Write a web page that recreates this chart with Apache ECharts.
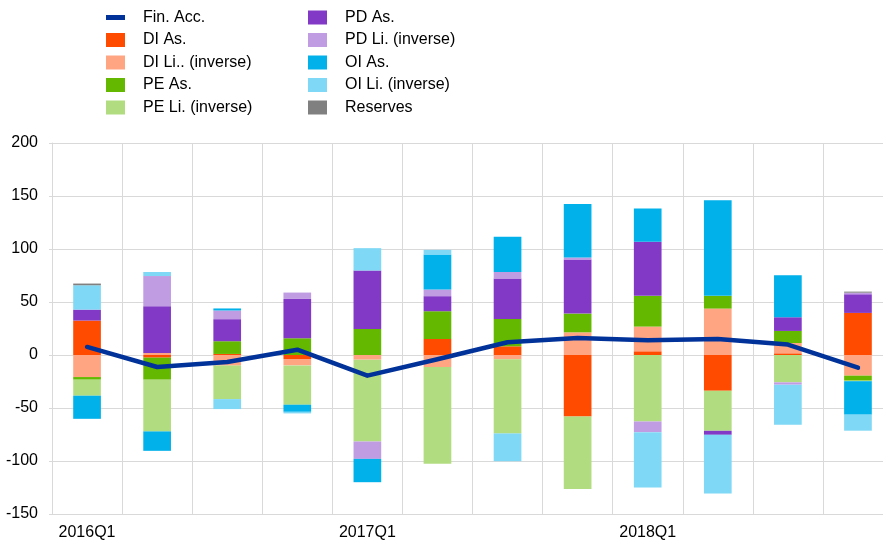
<!DOCTYPE html>
<html>
<head>
<meta charset="utf-8">
<script src="https://cdn.jsdelivr.net/npm/echarts@6/dist/echarts.min.js"></script>
<style>
  html, body { margin: 0; padding: 0; background: #fff; overflow: hidden; }
  #chart { width: 893px; height: 542px; }
</style>
</head>
<body>
<div id="chart"></div>
<script>
const quarters = ['2016Q1', '2016Q2', '2016Q3', '2016Q4', '2017Q1', '2017Q2', '2017Q3', '2017Q4', '2018Q1', '2018Q2', '2018Q3', '2018Q4']
const yTicks = { min: -150, max: 200, step: 50 }

const finAcc = [7.6, -11.3, -6.6, 5, -19.5, -4, 12, 16, 14, 15, 9.8, -12]
const diAs = [32.5, -2.5, 1, -3.8, 0, 15.1, 8.2, -58, 3.5, -33.7, 1.6, 39.7]
const diLi = [-20.8, 2, -10, -6, -4.4, -11.3, -4.1, 21.4, 23.3, 43.8, 9.7, -19.5]
const peAs = [-2.5, -20.8, 12, 15.8, 24.6, 26.2, 25.8, 17.7, 29, 12, 11.4, -4.7]
const peLi = [-15.1, -48.8, -31.6, -37.1, -77.2, -91.4, -69.9, -68.3, -62.7, -37.8, -25.8, -0.5]
const pdAs = [10.3, 44.1, 20.8, 37.1, 55.1, 14.2, 38.1, 51, 51, -3.8, 12.9, 17.6]
const pdLi = [0, 28.4, 8.2, 6, -16.4, 6.3, 6.3, 1.9, -10.1, 0, -2.2, 1.5]
const oiAs = [-21.8, -18.3, 1.9, -6.7, -22, 33, 33.1, 50.4, 31.5, 90.1, 39.7, -31.6]
const oiLi = [23, 3.8, -9.4, -1.5, 21.1, 4.4, -26.2, 0, -52.3, -55.4, -37.8, -15.1]
const reserves = [1.6, 0, 0, 0, 0, 0, 0, 0, 0, 0, 0, 1]

const bars = [
  { name: 'DI As.', data: diAs, color: '#ff4b00' },
  { name: 'DI Li.. (inverse)', data: diLi, color: '#ffa582' },
  { name: 'PE As.', data: peAs, color: '#65b800' },
  { name: 'PE Li. (inverse)', data: peLi, color: '#b2dc80' },
  { name: 'PD As.', data: pdAs, color: '#8139c6' },
  { name: 'PD Li. (inverse)', data: pdLi, color: '#c09ce3' },
  { name: 'OI As.', data: oiAs, color: '#00b1ea' },
  { name: 'OI Li. (inverse)', data: oiLi, color: '#7fd8f5' },
  { name: 'Reserves', data: reserves, color: '#808080' }
]

const chart = echarts.init(document.getElementById('chart'))

const series = bars.map(item => ({
  name: item.name,
  type: 'bar',
  stack: 'total',
  barWidth: '39.5%',
  itemStyle: { color: item.color },
  data: item.data
}))
series.push({
  name: 'Fin. Acc.',
  type: 'line',
  data: finAcc,
  symbol: 'none',
  z: 10,
  lineStyle: { color: '#003299', width: 4.5, cap: 'round', join: 'round' },
  itemStyle: { color: '#003299' }
})

// two legend columns, like the original
const legendCommon = {
  orient: 'vertical',
  top: 4.5,
  itemWidth: 19,
  itemHeight: 14,
  itemGap: 6.5,
  selectedMode: false,
  icon: 'rect',
  textStyle: { fontFamily: 'Liberation Sans, Arial', fontSize: 16, color: '#000', padding: [0, 0, 0, 13] }
}

chart.setOption({
  animation: false,
  textStyle: { fontFamily: 'Liberation Sans, Arial' },
  legend: [
    Object.assign({}, legendCommon, {
      left: 101,
      data: [
        { name: 'Fin. Acc.', icon: 'path://M0,0 H19 V5 H0 Z' },
        'DI As.', 'DI Li.. (inverse)', 'PE As.', 'PE Li. (inverse)'
      ]
    }),
    Object.assign({}, legendCommon, {
      left: 303,
      data: ['PD As.', 'PD Li. (inverse)', 'OI As.', 'OI Li. (inverse)', 'Reserves']
    })
  ],
  grid: { left: 52, right: 0, top: 143, bottom: 28 },
  xAxis: {
    type: 'category',
    data: quarters,
    boundaryGap: true,
    axisLine: { onZero: false, lineStyle: { color: '#d9d9d9' } },
    axisTick: { show: false },
    axisLabel: { interval: 3, color: '#000', fontSize: 16, margin: 11 },
    splitLine: { show: true, interval: 0, lineStyle: { color: '#d9d9d9' } }
  },
  yAxis: {
    type: 'value',
    min: yTicks.min,
    max: yTicks.max,
    interval: yTicks.step,
    axisLine: { show: true, lineStyle: { color: '#d9d9d9' } },
    axisTick: { show: true, length: 3, lineStyle: { color: '#d9d9d9' } },
    axisLabel: { color: '#000', fontSize: 16, margin: 14 },
    splitLine: { lineStyle: { color: '#d9d9d9' } }
  },
  series: series
})
</script>
</body>
</html>
